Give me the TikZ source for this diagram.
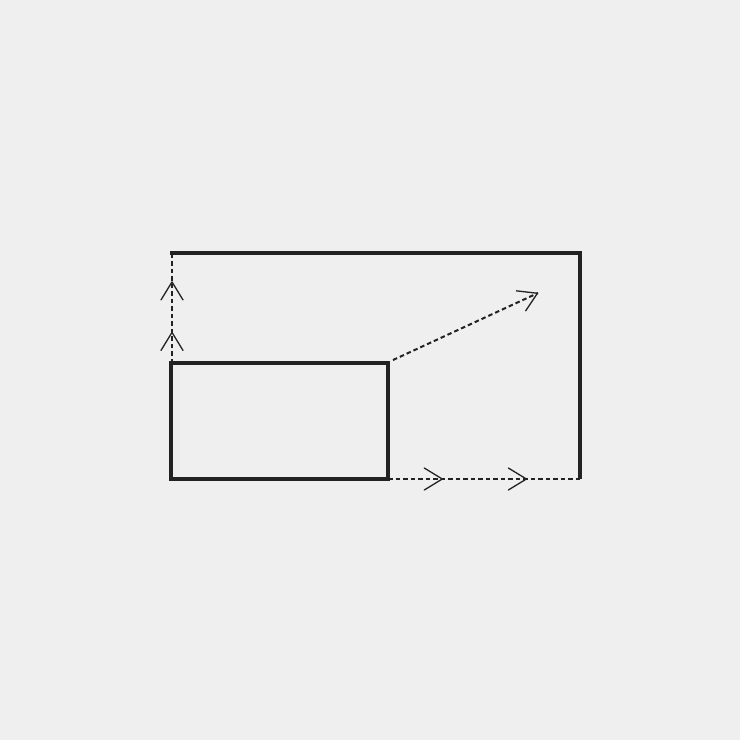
\documentclass[tikz,border=0pt]{standalone}
\usetikzlibrary{arrows.meta,decorations.markings}
\definecolor{bg}{HTML}{EFEFEF}
\definecolor{ink}{HTML}{222222}
\tikzset{
  solidline/.style={draw=ink,line width=3.5pt},
  dashline/.style={draw=ink,line width=2pt,dash pattern=on 4.5pt off 3pt},
  chev/.tip={Straight Barb[length=18pt,width=22pt,line width=1.3pt,round]},
  midarrows/.style 2 args={postaction={decorate},decoration={markings,
    mark=at position #1 with {\arrow[ink,solid]{chev}},
    mark=at position #2 with {\arrow[ink,solid]{chev}}}},
  endarrow/.style={postaction={decorate},decoration={markings,
    mark=at position 1 with {\arrow[ink,solid]{chev}}}},
}
\begin{document}
\begin{tikzpicture}[x=1pt,y=-1pt]
\fill[bg] (0,0) rectangle (740,740);
\useasboundingbox (0,0) rectangle (740,740);
% small box
\node[solidline,rectangle,minimum width=217pt,minimum height=116pt,inner sep=0pt,outer sep=0pt,anchor=north west] (box) at (171,363) {};
% frame corners
\coordinate (tl) at (172,253);
\coordinate (tr) at (580,253);
\coordinate (br) at (580,479);
\coordinate (diagend) at (538,293);
\draw[solidline,line cap=butt] ([xshift=-1.75pt]tl) -- (tr) -- (br);
% dashed left with arrows
\draw[dashline,midarrows={0.284}{0.743}] (box.north west -| tl) -- (tl);
% dashed bottom with arrows
\draw[dashline,midarrows={0.286}{0.724}] (box.south east) -- (br);
% diagonal
\draw[dashline,endarrow] ([xshift=5pt,yshift=3pt]box.north east) -- (diagend);
\end{tikzpicture}
\end{document}
